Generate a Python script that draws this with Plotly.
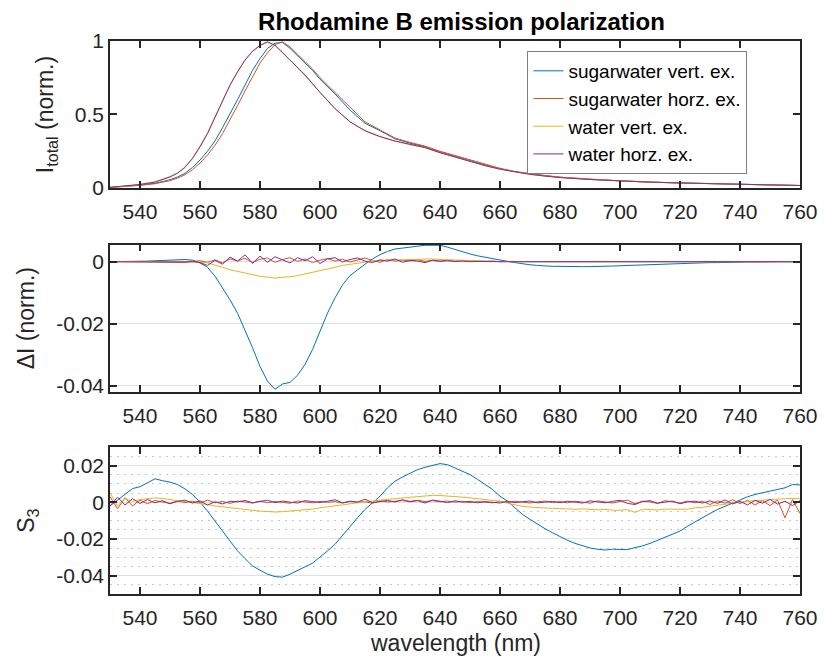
import plotly.graph_objects as go
from plotly.subplots import make_subplots

# ---------------- data ----------------
WL_TOT = [530, 535, 540, 545, 550, 552.5, 555, 557.5, 560, 562.5, 565, 567.5, 570, 572.5,
          575, 577.5, 580, 582.5, 585, 587.5, 590, 592.5, 595, 597.5, 600, 605, 610, 615,
          620, 625, 630, 635, 640, 645, 650, 655, 660, 665, 670, 675, 680, 690, 700, 710,
          720, 730, 740, 750, 760]

TOT_SUGAR_V = [0.004, 0.010, 0.020, 0.032, 0.056, 0.075, 0.100, 0.140, 0.190, 0.250, 0.320, 0.410,
               0.500, 0.600, 0.700, 0.800, 0.880, 0.950, 0.985, 0.990, 0.950, 0.900, 0.850, 0.800,
               0.740, 0.640, 0.530, 0.440, 0.390, 0.335, 0.305, 0.280, 0.245, 0.215, 0.185, 0.157,
               0.131, 0.110, 0.095, 0.083, 0.073, 0.058, 0.047, 0.040, 0.034, 0.029, 0.025, 0.020, 0.017]
TOT_SUGAR_H = [0.003, 0.009, 0.018, 0.029, 0.050, 0.067, 0.090, 0.125, 0.170, 0.225, 0.290, 0.370,
               0.460, 0.560, 0.660, 0.760, 0.850, 0.920, 0.975, 0.995, 0.960, 0.910, 0.860, 0.810,
               0.750, 0.650, 0.545, 0.450, 0.395, 0.340, 0.310, 0.285, 0.250, 0.220, 0.190, 0.160,
               0.134, 0.112, 0.097, 0.085, 0.074, 0.059, 0.048, 0.040, 0.034, 0.029, 0.025, 0.020, 0.017]
TOT_WATER_V = [0.005, 0.012, 0.025, 0.042, 0.078, 0.103, 0.143, 0.205, 0.285, 0.375, 0.485, 0.595,
               0.700, 0.790, 0.870, 0.930, 0.970, 0.990, 0.972, 0.925, 0.872, 0.822, 0.770, 0.710,
               0.650, 0.540, 0.450, 0.388, 0.348, 0.318, 0.294, 0.274, 0.240, 0.209, 0.180, 0.152,
               0.128, 0.108, 0.093, 0.081, 0.071, 0.058, 0.047, 0.040, 0.034, 0.029, 0.025, 0.020, 0.017]
TOT_WATER_H = [0.005, 0.012, 0.024, 0.040, 0.075, 0.100, 0.140, 0.200, 0.280, 0.370, 0.480, 0.590,
               0.700, 0.790, 0.870, 0.930, 0.970, 0.995, 0.970, 0.920, 0.870, 0.820, 0.770, 0.710,
               0.650, 0.540, 0.450, 0.390, 0.350, 0.320, 0.295, 0.275, 0.240, 0.210, 0.180, 0.152,
               0.128, 0.108, 0.093, 0.081, 0.071, 0.058, 0.047, 0.040, 0.034, 0.029, 0.025, 0.020, 0.017]

WL = [530, 532.5, 535, 537.5, 540, 542.5, 545, 547.5, 550, 552.5,
      555, 557.5, 560, 562.5, 565, 567.5, 570, 572.5, 575, 577.5,
      580, 582.5, 585, 587.5, 590, 592.5, 595, 597.5, 600, 602.5,
      605, 607.5, 610, 612.5, 615, 617.5, 620, 622.5, 625, 627.5,
      630, 632.5, 635, 637.5, 640, 642.5, 645, 647.5, 650, 652.5,
      655, 657.5, 660, 662.5, 665, 667.5, 670, 672.5, 675, 677.5,
      680, 682.5, 685, 687.5, 690, 692.5, 695, 697.5, 700, 702.5,
      705, 707.5, 710, 712.5, 715, 717.5, 720, 722.5, 725, 727.5,
      730, 732.5, 735, 737.5, 740, 742.5, 745, 747.5, 750, 752.5,
      755, 757.5, 760]

DI_SUGAR_V = [0, 0, 0, 0, 0.0001, 0.0002, 0.0003, 0.0004, 0.0005, 0.0006,
              0.0007, 0.0005, -0.0004, -0.0018, -0.0047, -0.0085, -0.0123, -0.0166, -0.0220, -0.0278,
              -0.0338, -0.0386, -0.0412, -0.0395, -0.0390, -0.0367, -0.0332, -0.0284, -0.0225, -0.0166,
              -0.0117, -0.0075, -0.0045, -0.0025, -0.0008, 0.0009, 0.0023, 0.0033, 0.0041, 0.0044,
              0.0046, 0.0050, 0.0053, 0.0054, 0.0053, 0.0047, 0.0039, 0.0032, 0.0025, 0.0019,
              0.0014, 0.0009, 0.0005, 0.0001, -0.0003, -0.0007, -0.0010, -0.0012, -0.0014, -0.0015,
              -0.0015, -0.0016, -0.0016, -0.0016, -0.0016, -0.0016, -0.0015, -0.0014, -0.0013, -0.0012,
              -0.0011, -0.0010, -0.0009, -0.0008, -0.0007, -0.0006, -0.0005, -0.0005, -0.0004, -0.0004,
              -0.0003, -0.0003, -0.0002, -0.0002, -0.0001, -0.0001, -0.0001, 0, 0, 0,
              0, 0, 0]
DI_SUGAR_H = [0, 0, 0, 0, 0, 0, 0, 0, 0, 0,
              0, 0.0001, 0.0003, -0.0002, 0.0006, -0.0004, 0.0009, 0.0002, 0.0011, -0.0003,
              0.0008, 0.0012, -0.0002, 0.0007, 0.0013, 0.0001, 0.0009, -0.0003, 0.0005, 0.0010,
              0.0002, 0.0008, -0.0001, 0.0006, 0.0012, 0.0004, -0.0002, 0.0007, 0.0002, 0.0005,
              0.0003, 0.0006, 0.0001, 0.0004, 0.0002, 0.0005, 0.0001, 0.0003, 0.0002, 0.0003,
              0.0001, 0.0002, 0, 0.0001, 0, 0, 0, 0, 0, 0,
              0, 0, 0, 0, 0, 0, 0, 0, 0, 0,
              0, 0, 0, 0, 0, 0, 0, 0, 0, 0,
              0, 0, 0, 0, 0, 0, 0, 0, 0, 0,
              0, 0, 0]
DI_WATER_V = [0, 0, 0, 0, 0, 0, 0, 0, -0.0001, -0.0001,
              -0.0001, -0.0001, -0.0002, -0.0004, -0.0010, -0.0018, -0.0026, -0.0031, -0.0036, -0.0043,
              -0.0047, -0.0050, -0.0053, -0.0050, -0.0049, -0.0045, -0.0040, -0.0034, -0.0028, -0.0023,
              -0.0018, -0.0012, -0.0008, -0.0004, -0.0001, 0.0002, 0.0004, 0.0005, 0.0006, 0.0007,
              0.0008, 0.0008, 0.0008, 0.0009, 0.0007, 0.0006, 0.0005, 0.0004, 0.0003, 0.0002,
              0.0001, 0.0001, 0, 0, 0, 0, 0, 0, 0, 0,
              0, 0, 0, 0, 0, 0, 0, 0, 0, 0,
              0, 0, 0, 0, 0, 0, 0, 0, 0, 0,
              0, 0, 0, 0, 0, 0, 0, 0, 0, 0,
              0, 0, 0]
DI_WATER_H = [0, 0, 0, 0, 0, 0, 0, 0, 0, 0,
              -0.0002, 0.0001, -0.0003, -0.0012, 0.0004, -0.0008, 0.0015, 0.0002, 0.0022, -0.0005,
              0.0018, -0.0002, 0.0016, 0.0006, -0.0004, 0.0013, 0.0003, 0.0016, -0.0006, 0.0009,
              0.0013, -0.0001, 0.0007, 0.0012, 0.0002, -0.0003, 0.0006, 0.0002, 0.0009, -0.0002,
              0.0004, 0.0002, -0.0003, 0.0005, 0.0001, 0.0003, 0.0001, 0.0002, 0, 0.0001,
              0, 0.0001, 0, 0, 0, 0, 0, 0, 0, 0,
              0, 0, 0, 0, 0, 0, 0, 0, 0, 0,
              0, 0, 0, 0, 0, 0, 0, 0, 0, 0,
              0, 0, 0, 0, 0, 0, 0, 0, 0, 0,
              0, 0, 0]

S3_SUGAR_V = [-0.0020, 0.0010, 0.0040, 0.0075, 0.0085, 0.0105, 0.0128, 0.0118, 0.0110, 0.0097,
              0.0073, 0.0043, 0.0001, -0.0048, -0.0102, -0.0157, -0.0210, -0.0265, -0.0307, -0.0347,
              -0.0370, -0.0392, -0.0405, -0.0408, -0.0392, -0.0374, -0.0352, -0.0332, -0.0301, -0.0265,
              -0.0229, -0.0184, -0.0133, -0.0084, -0.0039, -0.0003, 0.0033, 0.0079, 0.0115, 0.0138,
              0.0160, 0.0178, 0.0191, 0.0200, 0.0211, 0.0205, 0.0187, 0.0170, 0.0151, 0.0125,
              0.0097, 0.0070, 0.0033, 0.0006, -0.0030, -0.0066, -0.0093, -0.0120, -0.0144, -0.0166,
              -0.0187, -0.0207, -0.0224, -0.0238, -0.0249, -0.0256, -0.0260, -0.0256, -0.0256, -0.0258,
              -0.0247, -0.0238, -0.0224, -0.0207, -0.0193, -0.0175, -0.0157, -0.0130, -0.0106, -0.0084,
              -0.0061, -0.0039, -0.0021, -0.0003, 0.0015, 0.0030, 0.0043, 0.0052, 0.0061, 0.0073,
              0.0079, 0.0097, 0.0095]
S3_SUGAR_H = [0.0030, -0.0035, 0.0025, -0.0020, 0.0012, -0.0008, 0.0010, 0.0003, -0.0006, 0.0008,
              -0.0002, 0.0006, -0.0004, 0.0012, -0.0003, 0.0005, -0.0006, 0.0007, 0.0001, -0.0004,
              0.0006, -0.0002, 0.0004, 0.0001, -0.0005, 0.0007, 0.0002, -0.0003, 0.0005, 0.0000,
              0.0004, -0.0004, 0.0006, 0.0001, 0.0003, -0.0005, 0.0008, 0.0002, 0.0006, 0.0009,
              0.0005, 0.0011, 0.0004, 0.0009, 0.0003, 0.0007, 0.0001, 0.0005, -0.0002, 0.0004,
              0.0001, -0.0003, 0.0005, -0.0001, 0.0006, 0.0002, -0.0004, 0.0003, 0.0007, -0.0002,
              0.0004, -0.0003, 0.0006, 0.0001, -0.0005, 0.0008, 0.0002, -0.0004, 0.0005, 0.0012,
              -0.0008, 0.0006, 0.0002, -0.0006, 0.0009, 0.0001, -0.0004, 0.0007, -0.0003, 0.0005,
              -0.0012, 0.0008, -0.0005, 0.0014, -0.0007, 0.0011, -0.0015, 0.0009, -0.0018, 0.0012,
              -0.0085, 0.0015, -0.0060]
S3_WATER_V = [0.0050, -0.0020, 0.0020, 0.0005, 0.0015, 0.0020, 0.0024, 0.0020, 0.0015, 0.0010,
              0.0006, 0.0002, -0.0003, -0.0012, -0.0020, -0.0025, -0.0030, -0.0035, -0.0039, -0.0044,
              -0.0048, -0.0050, -0.0053, -0.0051, -0.0048, -0.0046, -0.0043, -0.0037, -0.0030, -0.0026,
              -0.0021, -0.0014, -0.0008, -0.0002, 0.0003, 0.0008, 0.0012, 0.0016, 0.0020, 0.0025,
              0.0030, 0.0034, 0.0037, 0.0038, 0.0037, 0.0035, 0.0033, 0.0028, 0.0024, 0.0020,
              0.0015, 0.0010, 0.0006, -0.0005, -0.0015, -0.0022, -0.0026, -0.0030, -0.0031, -0.0033,
              -0.0035, -0.0033, -0.0038, -0.0036, -0.0039, -0.0041, -0.0038, -0.0043, -0.0043, -0.0040,
              -0.0055, -0.0038, -0.0039, -0.0042, -0.0037, -0.0036, -0.0035, -0.0038, -0.0030, -0.0028,
              -0.0021, -0.0015, -0.0010, -0.0005, 0.0001, 0.0006, 0.0009, 0.0012, 0.0015, 0.0017,
              0.0019, 0.0022, 0.0018]
S3_WATER_H = [-0.0020, 0.0028, -0.0015, 0.0020, -0.0006, 0.0015, -0.0003, 0.0009, -0.0008, 0.0005,
              0.0012, -0.0004, 0.0008, -0.0015, 0.0003, -0.0009, 0.0006, 0.0002, 0.0010, -0.0003,
              0.0005, 0.0011, -0.0002, 0.0007, 0.0001, -0.0004, 0.0009, 0.0003, -0.0001, 0.0006,
              0.0014, -0.0003, 0.0005, 0.0001, 0.0017, -0.0002, 0.0006, 0.0010, 0.0002, 0.0014,
              0.0003, 0.0009, -0.0004, 0.0012, 0.0006, -0.0002, 0.0008, 0.0001, 0.0005, -0.0003,
              0.0004, 0.0000, -0.0004, 0.0006, -0.0002, 0.0003, 0.0007, -0.0003, 0.0002, 0.0005,
              -0.0002, 0.0006, 0.0001, -0.0004, 0.0008, 0.0002, -0.0003, 0.0005, 0.0011, -0.0006,
              -0.0012, 0.0004, 0.0009, -0.0005, 0.0003, 0.0007, -0.0008, 0.0002, 0.0006, -0.0004,
              0.0008, -0.0006, 0.0013, -0.0009, 0.0005, -0.0014, 0.0011, -0.0005, 0.0016, -0.0010,
              0.0006, -0.0018, 0.0009]

SERIES_NAMES = ["sugarwater vert. ex.", "sugarwater horz. ex.", "water vert. ex.", "water horz. ex."]
COLORS = ["#0072BD", "#D95319", "#EDB120", "#7E2F8E"]

X_TICKS = [540, 560, 580, 600, 620, 640, 660, 680, 700, 720, 740, 760]
Y1_TICKS = [0, 0.5, 1]
Y1_TEXT = ["0", "0.5", "1"]
Y2_TICKS = [-0.04, -0.02, 0]
Y2_TEXT = ["-0.04", "-0.02", "0"]
Y3_TICKS = [-0.04, -0.02, 0, 0.02]
Y3_TEXT = ["-0.04", "-0.02", "0", "0.02"]

# ---------------- figure ----------------
FONT = "Liberation Sans, Arial, Helvetica, sans-serif"
INK = "#262626"
fig = make_subplots(rows=3, cols=1)

panels = [
    (1, WL_TOT, [TOT_SUGAR_V, TOT_SUGAR_H, TOT_WATER_V, TOT_WATER_H]),
    (2, WL, [DI_SUGAR_V, DI_SUGAR_H, DI_WATER_V, DI_WATER_H]),
    (3, WL, [S3_SUGAR_V, S3_SUGAR_H, S3_WATER_V, S3_WATER_H]),
]
for row, xs, ys_list in panels:
    for name, color, ys in zip(SERIES_NAMES, COLORS, ys_list):
        fig.add_trace(go.Scatter(x=xs, y=ys, mode="lines", name=name,
                                 line=dict(color=color, width=1),
                                 showlegend=(row == 1)), row=row, col=1)

axis_common = dict(showline=True, mirror="allticks", linecolor=INK, linewidth=1.5,
                   ticks="inside", ticklen=7, tickwidth=1.5, tickcolor=INK,
                   tickfont=dict(family=FONT, size=21, color=INK),
                   ticklabeloverflow="allow", zeroline=False)

domains = [[0.7342, 1.0], [0.3658, 0.6317], [0.0, 0.2653]]
for i in range(3):
    fig.update_xaxes(axis_common, range=[530, 760], tickmode="array", tickvals=X_TICKS,
                     ticktext=[str(t) for t in X_TICKS], showgrid=False, ticklabelstandoff=4,
                     row=i + 1, col=1)
    fig.layout[f"yaxis{'' if i == 0 else i + 1}"].domain = domains[i]

TITLE_FONT = dict(family=FONT, size=23, color=INK)
fig.update_yaxes(axis_common, range=[0, 1], tickmode="array", tickvals=Y1_TICKS, ticktext=Y1_TEXT,
                 showgrid=False,
                 title=dict(text="I<sub>total</sub> (norm.)", font=TITLE_FONT),
                 row=1, col=1)
fig.update_yaxes(axis_common, range=[-0.042, 0.0055], tickmode="array", tickvals=Y2_TICKS, ticktext=Y2_TEXT,
                 showgrid=True, gridcolor="#e0e0e0", gridwidth=1,
                 title=dict(text="ΔI (norm.)", font=TITLE_FONT),
                 row=2, col=1)
fig.update_yaxes(axis_common, range=[-0.05, 0.03], tickmode="array", tickvals=Y3_TICKS, ticktext=Y3_TEXT,
                 showgrid=True, gridcolor="#e0e0e0", gridwidth=1,
                 minor=dict(tickmode="linear", tick0=0, dtick=0.005, showgrid=True,
                            gridcolor="#c8c8c8", griddash="2px,5px", gridwidth=1, ticks=""),
                 title=dict(text="S<sub>3</sub>", font=TITLE_FONT),
                 row=3, col=1)

# x-axis label of the bottom panel, placed under its tick labels
fig.add_annotation(text="wavelength (nm)", xref="paper", yref="paper", x=0.5, y=-0.088,
                   xanchor="center", yanchor="middle", showarrow=False, font=TITLE_FONT)

fig.update_layout(
    width=830, height=662,
    margin=dict(l=110, r=17, t=41, b=68),
    paper_bgcolor="white", plot_bgcolor="white",
    font=dict(family=FONT, color=INK),
    title=dict(text="<b>Rhodamine B emission polarization</b>", x=0.556, xanchor="center",
               y=0.967, yanchor="middle", yref="container",
               font=dict(family=FONT, size=24, color="#000000")),
    legend=dict(x=0.605, y=0.982, xanchor="left", yanchor="top", bgcolor="white",
                bordercolor="#7f7f7f", borderwidth=1, entrywidth=250, entrywidthmode="pixels",
                font=dict(family=FONT, size=19, color="#000000"), tracegroupgap=0),
    showlegend=True,
)

fig.write_html("out.html")
